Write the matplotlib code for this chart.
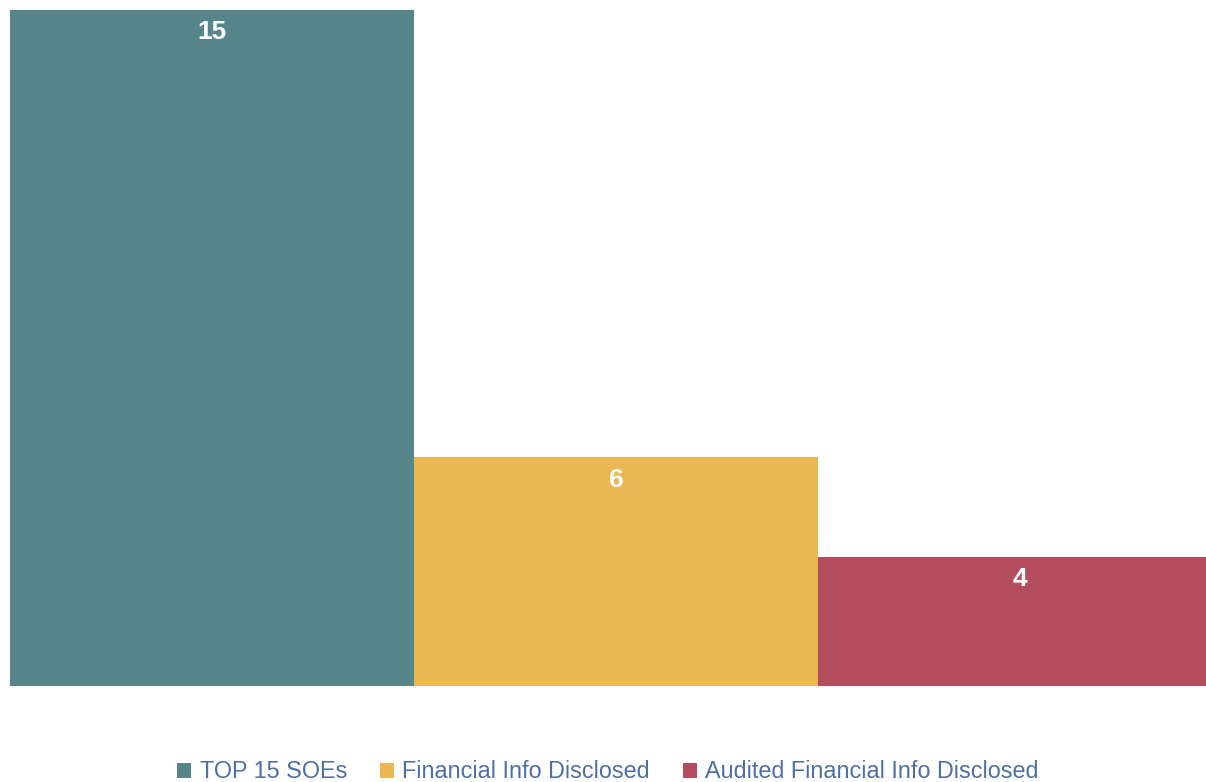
import matplotlib
matplotlib.use("Agg")
import matplotlib.pyplot as plt
from matplotlib.patches import Patch

##### DATA #####
categories = ["TOP 15 SOEs", "Financial Info Disclosed", "Audited Financial Info Disclosed"]
values = [15, 6, 4]
colors = ["#56858a", "#ebb752", "#b34d5e"]

fig = plt.figure(figsize=(12.06, 7.82), dpi=100)
ax = fig.add_axes([10 / 1206, 96 / 782, 1196 / 1206, 676 / 782])

x = list(range(len(values)))
ax.bar(x, values, width=1.0, color=colors)

for xi, v in zip(x, values):
    ax.annotate(str(v), (xi, v), xytext=(0, -16), textcoords="offset points",
                ha="center", va="center", color="white", fontsize=19,
                fontweight="bold", family="Liberation Sans")

ax.set_xlim(-0.5, 2.46)
ax.set_ylim(1.4, 15)
ax.axis("off")

##### LEGEND #####
handles = [Patch(facecolor=c, label=l) for c, l in zip(colors, categories)]
fig.legend(handles=handles, loc="center", bbox_to_anchor=(0.504, 0.013), ncol=3,
           frameon=False, handlelength=0.62, handleheight=0.62,
           handletextpad=0.35, columnspacing=1.4, labelcolor="#4d6fa3",
           prop={"family": "Liberation Sans", "size": 16.8})

plt.savefig("out.png", dpi=100)
